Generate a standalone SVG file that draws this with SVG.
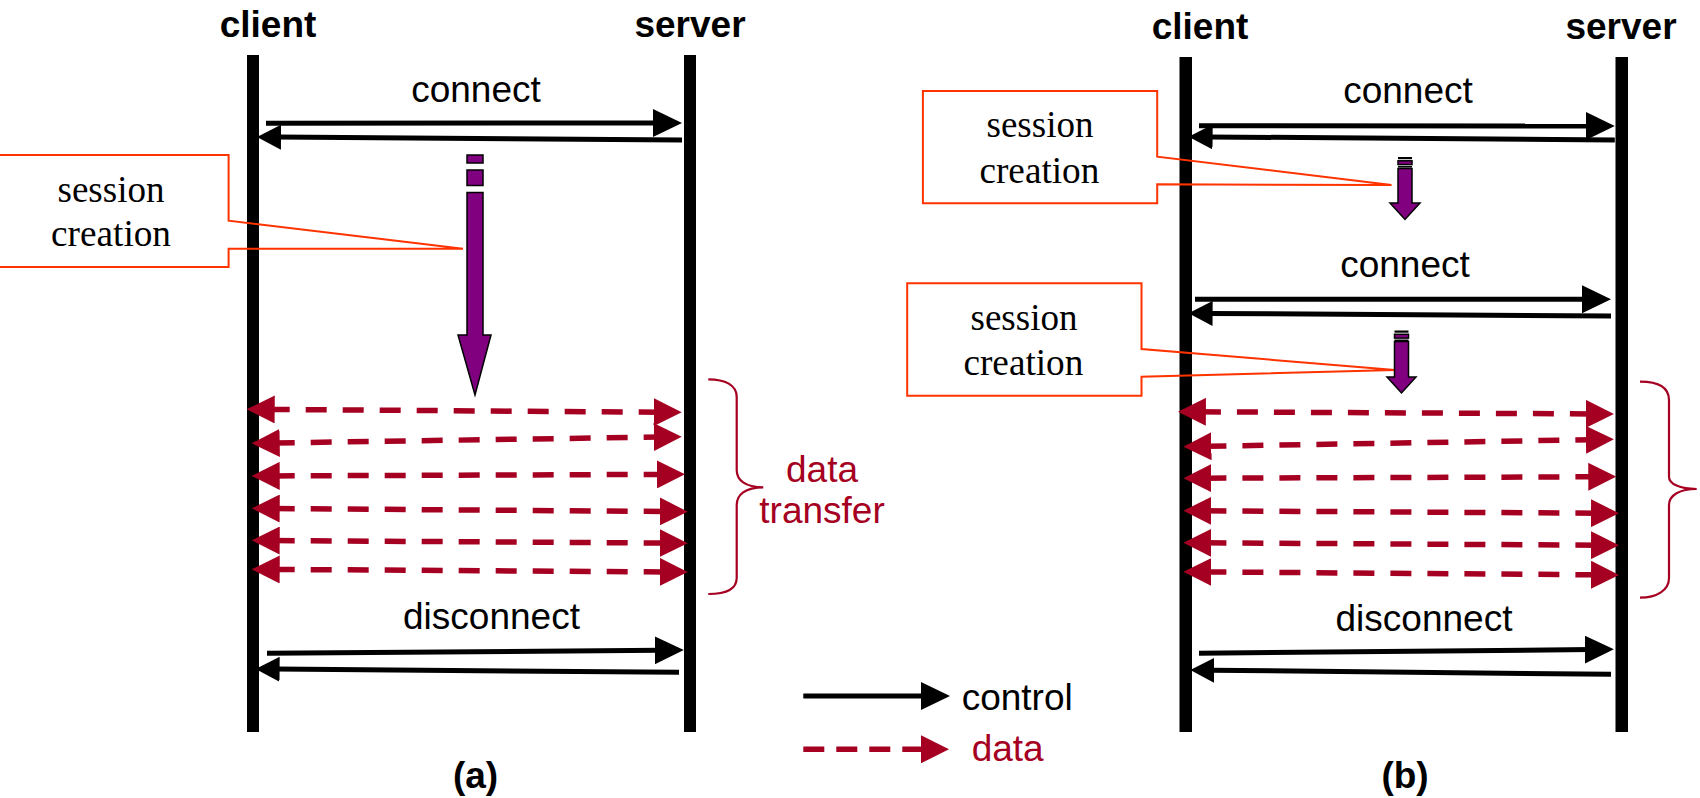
<svg xmlns="http://www.w3.org/2000/svg" width="1700" height="798" viewBox="0 0 1700 798">
<style>
.hdr{font-family:"Liberation Sans",Arial,sans-serif;font-weight:bold;font-size:37px;fill:#000;text-anchor:middle}
.lbl{font-family:"Liberation Sans",Arial,sans-serif;font-size:37px;fill:#000;text-anchor:middle}
.red{fill:#a50021}
.ser{font-family:"Liberation Serif","Times New Roman",serif;font-size:37px;fill:#000;text-anchor:middle}
.life{fill:#000}
.ctl{stroke:#000;stroke-width:5;fill:none}
.ctlh{stroke:#000;stroke-width:5;fill:none;marker-end:url(#hc)}
.ctls{stroke:#000;stroke-width:5;fill:none;marker-end:url(#hcs)}
.dat{stroke:#a50021;stroke-width:5.5;fill:none;stroke-dasharray:21 16;marker-start:url(#hd);marker-end:url(#hd)}
.call{fill:none;stroke:#ff3300;stroke-width:2}
.brace{fill:none;stroke:#a50021;stroke-width:2.2}
.purp{fill:#800080;stroke:#000;stroke-width:1.5}
</style>
<defs>
<marker id="hd" markerUnits="userSpaceOnUse" markerWidth="28" markerHeight="28" viewBox="0 0 28 28" refX="6" refY="14" orient="auto-start-reverse"><path d="M0,0L28,14L0,28z" fill="#a50021"/></marker>
<marker id="hc" markerUnits="userSpaceOnUse" markerWidth="29" markerHeight="28" viewBox="0 0 29 28" refX="6" refY="14" orient="auto"><path d="M0,0L29,14L0,28z" fill="#000"/></marker>
<marker id="hcs" markerUnits="userSpaceOnUse" markerWidth="24" markerHeight="25" viewBox="0 0 24 25" refX="4" refY="12.5" orient="auto"><path d="M0,0L24,12.5L0,25z" fill="#000"/></marker>
</defs>
<rect width="1700" height="798" fill="#fff"/>

<!-- panel a -->
<g id="client-a"><text class="hdr" x="268" y="36.5">client</text><rect class="life" x="247" y="55" width="12" height="677"/></g>
<g id="server-a"><text class="hdr" x="690" y="36.5">server</text><rect class="life" x="684" y="55" width="12" height="677"/></g>

<g id="session-a">
<path class="call" d="M-5,155H228.6V220.7L463,248.7H228.6V267H-5"/>
<text class="ser" x="111" y="202" textLength="107" lengthAdjust="spacingAndGlyphs">session</text>
<text class="ser" x="111" y="246" textLength="120" lengthAdjust="spacingAndGlyphs">creation</text>
</g>
<g id="session-arrow-a">
<rect class="purp" x="467" y="155" width="16" height="8"/>
<rect class="purp" x="467" y="170" width="16" height="15.5"/>
<path class="purp" d="M467,192.5H483V335H491L475,395L458,335H467z"/>
</g>

<g id="transfer-a">
<path class="brace" d="M708.3,379.3C725,379.3 736.7,385 736.7,397V470C736.7,480 745,487.3 763.3,487.3C745,487.3 736.7,495 736.7,505V578C736.7,590 725,594 708.3,594"/>
<text class="lbl red" x="822" y="481.7">data</text>
<text class="lbl red" x="822" y="523.3">transfer</text>
</g>

<text class="lbl" x="476" y="102">connect</text>
<text class="lbl" x="491.5" y="629">disconnect</text>
<text class="hdr" x="475.5" y="788">(a)</text>

<!-- panel b -->
<g id="client-b"><text class="hdr" x="1200" y="39">client</text><rect class="life" x="1179.5" y="57" width="12.5" height="675"/></g>
<g id="server-b"><text class="hdr" x="1621" y="39">server</text><rect class="life" x="1615.5" y="57" width="12.5" height="675"/></g>

<g id="session-b1">
<path class="call" d="M922.9,91H1157.2V156.7L1391.5,185L1157.2,184.3V203.3H922.9z"/>
<text class="ser" x="1040" y="137.3" textLength="107" lengthAdjust="spacingAndGlyphs">session</text>
<text class="ser" x="1039.4" y="182.7" textLength="120" lengthAdjust="spacingAndGlyphs">creation</text>
</g>
<g id="session-arrow-b1">
<rect x="1398" y="157" width="14" height="2.2" fill="#000"/>
<rect class="purp" x="1398" y="160.8" width="14" height="3.8"/>
<rect x="1398" y="166" width="14" height="1.6" fill="#000"/>
<path class="purp" d="M1398,168.5H1412V203H1420L1405,219.5L1390,203H1398z"/>
</g>

<g id="session-b2">
<path class="call" d="M907.2,283.3H1141.5V349L1395,370L1141.5,376.7V395.7H907.2z"/>
<text class="ser" x="1024" y="330" textLength="107" lengthAdjust="spacingAndGlyphs">session</text>
<text class="ser" x="1023.4" y="375" textLength="120" lengthAdjust="spacingAndGlyphs">creation</text>
</g>
<g id="session-arrow-b2">
<rect x="1394.5" y="330.5" width="14" height="2.2" fill="#000"/>
<rect class="purp" x="1394.5" y="334.3" width="14" height="3.8"/>
<rect x="1394.5" y="339.5" width="14" height="1.6" fill="#000"/>
<path class="purp" d="M1394.5,341.5H1408.5V377H1416L1401.5,393L1387,377H1394.5z"/>
</g>

<g id="transfer-b">
<path class="brace" d="M1640,381.7C1657,381.7 1669,387 1669,400V476.7C1669,484 1680,489 1696.7,489C1680,489 1669,495 1669,505V578C1669,590 1657,597.7 1640,597.7"/>
</g>

<text class="lbl" x="1408" y="103.3">connect</text>
<text class="lbl" x="1405" y="277.3">connect</text>
<text class="lbl" x="1424" y="630.7">disconnect</text>
<text class="hdr" x="1405" y="788">(b)</text>

<!-- legend -->
<g id="legend">
<path class="ctlh" d="M803.3,696H927"/>
<text class="lbl" x="961.7" y="710" style="text-anchor:start">control</text>
<path d="M803.3,749.3H927" stroke="#a50021" stroke-width="5.5" stroke-dasharray="21 12" fill="none" marker-end="url(#hd)"/>
<text class="lbl red" x="971.7" y="760.7" style="text-anchor:start">data</text>
</g>

<g id="connectors">
<!-- a control -->
<path class="ctlh" d="M266,123.3L659,123"/>
<path class="ctls" d="M682,140L277,137.1"/>
<path class="ctlh" d="M267,653.3L660.8,650.2"/>
<path class="ctls" d="M679,672.3L275.6,669.1"/>
<!-- a data -->
<path class="dat" d="M268.7,409.4L659.7,412.2"/>
<path class="dat" d="M273.7,443L659.7,437"/>
<path class="dat" d="M273.7,475.9L663,474.4"/>
<path class="dat" d="M273.7,508.5L665.7,511.5"/>
<path class="dat" d="M273.7,540.5L665.7,543.1"/>
<path class="dat" d="M273.7,569.4L665.7,571.9"/>
<!-- b control -->
<path class="ctlh" d="M1199,125.7L1591.8,126"/>
<path class="ctls" d="M1614.8,140L1208.6,136.9"/>
<path class="ctlh" d="M1195,299.3L1588,299.3"/>
<path class="ctls" d="M1611,316L1208.6,313.4"/>
<path class="ctlh" d="M1199,653.3L1590.9,649.5"/>
<path class="ctls" d="M1611,674.3L1210.3,670.2"/>
<!-- b data -->
<path class="dat" d="M1199.9,411.8L1591.9,413.9"/>
<path class="dat" d="M1205.4,446.3L1591.9,439.7"/>
<path class="dat" d="M1205.4,478.2L1594.3,476.8"/>
<path class="dat" d="M1205.4,510.8L1597,513.2"/>
<path class="dat" d="M1205.4,542.8L1597,545.2"/>
<path class="dat" d="M1205.4,571.9L1597,574.8"/>
</g>
</svg>
